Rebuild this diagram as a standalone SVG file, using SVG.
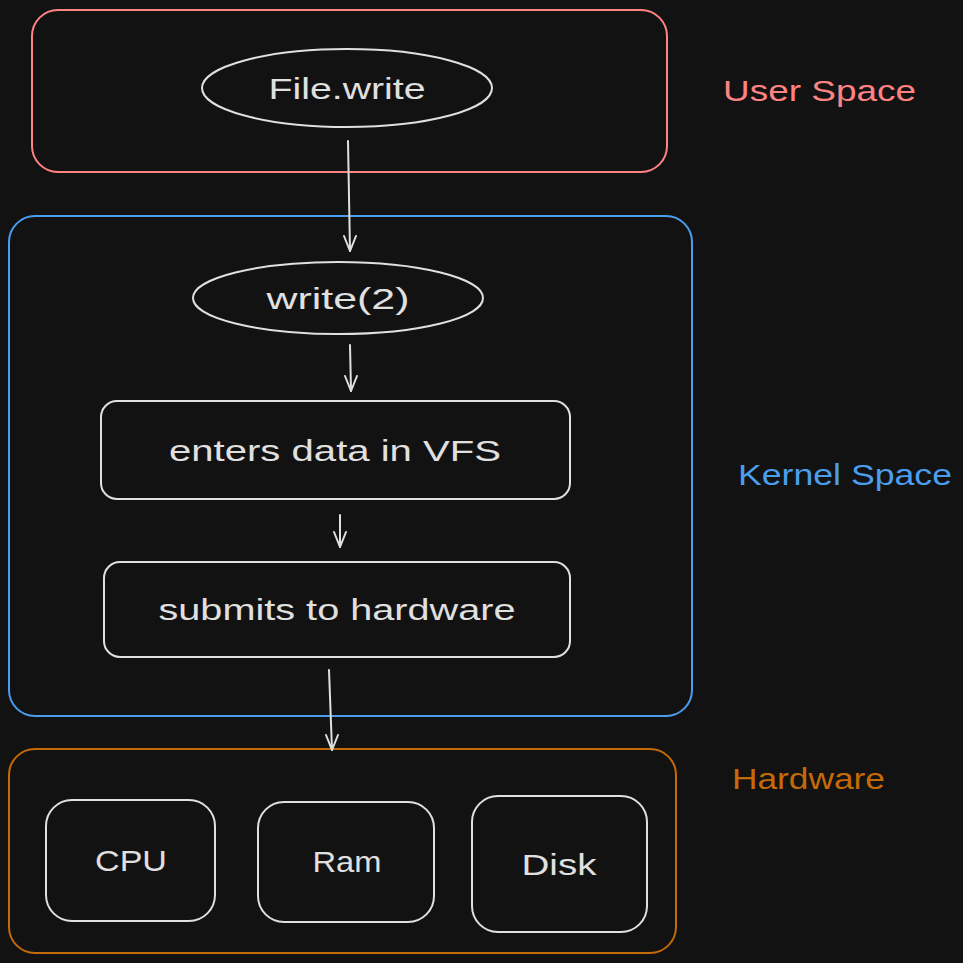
<svg xmlns="http://www.w3.org/2000/svg" width="963" height="963" viewBox="0 0 963 963">
<style>
.bg{fill:#121212}
.node{fill:none;stroke:#e0e0e0;stroke-width:2}
.t{font-family:"Liberation Sans",Lato,sans-serif;font-size:30px;fill:#e0e0e0;text-anchor:middle}
.lab{font-family:"Liberation Sans",Lato,sans-serif;font-size:30px}
.conn{stroke:#e0e0e0;stroke-width:2;fill:none;stroke-linecap:round}
</style>
<defs>
<marker id="arrd" viewBox="0 0 20 20" refX="10" refY="18" markerWidth="20" markerHeight="20" markerUnits="userSpaceOnUse" orient="0">
<polyline points="4,3 10,18 16,3" fill="none" stroke="#e0e0e0" stroke-width="2" stroke-linecap="round" stroke-linejoin="round"/>
</marker>
</defs>
<rect class="bg" x="0" y="0" width="963" height="963"/>

<g id="user-space">
<rect x="32" y="10" width="635" height="162" rx="26" fill="none" stroke="#ff8383" stroke-width="2"/>
<text class="lab" x="723" y="101" fill="#ff8383" textLength="193" lengthAdjust="spacingAndGlyphs">User Space</text>
</g>
<g id="kernel-space">
<rect x="9" y="216" width="683" height="500" rx="26" fill="none" stroke="#4a9eed" stroke-width="2"/>
<text class="lab" x="738" y="485" fill="#4a9eed" textLength="214" lengthAdjust="spacingAndGlyphs">Kernel Space</text>
</g>
<g id="hardware">
<rect x="9" y="749" width="667" height="204" rx="26" fill="none" stroke="#c46a08" stroke-width="2"/>
<text class="lab" x="732" y="789" fill="#c46a08" textLength="153" lengthAdjust="spacingAndGlyphs">Hardware</text>
</g>

<g id="file-write">
<ellipse class="node" cx="347" cy="88" rx="145" ry="39"/>
<text class="t" x="347" y="99" textLength="157" lengthAdjust="spacingAndGlyphs">File.write</text>
</g>
<g id="write2">
<ellipse class="node" cx="338" cy="298" rx="145" ry="36"/>
<text class="t" x="338" y="309" textLength="143" lengthAdjust="spacingAndGlyphs">write(2)</text>
</g>
<g id="vfs">
<rect class="node" x="101" y="401" width="469" height="98" rx="16"/>
<text class="t" x="335" y="461" textLength="332" lengthAdjust="spacingAndGlyphs">enters data in VFS</text>
</g>
<g id="submit">
<rect class="node" x="104" y="562" width="466" height="95" rx="16"/>
<text class="t" x="337" y="620" textLength="357" lengthAdjust="spacingAndGlyphs">submits to hardware</text>
</g>
<g id="cpu">
<rect class="node" x="46" y="800" width="169" height="121" rx="26"/>
<text class="t" x="131" y="871" textLength="72" lengthAdjust="spacingAndGlyphs">CPU</text>
</g>
<g id="ram">
<rect class="node" x="258" y="802" width="176" height="120" rx="26"/>
<text class="t" x="347" y="872" textLength="69" lengthAdjust="spacingAndGlyphs">Ram</text>
</g>
<g id="disk">
<rect class="node" x="472" y="796" width="175" height="136" rx="26"/>
<text class="t" x="559" y="875" textLength="75" lengthAdjust="spacingAndGlyphs">Disk</text>
</g>

<g id="connectors">
<line class="conn" x1="348" y1="141" x2="350" y2="251" marker-end="url(#arrd)"/>
<line class="conn" x1="350" y1="345" x2="351" y2="391" marker-end="url(#arrd)"/>
<line class="conn" x1="340" y1="515" x2="340" y2="547" marker-end="url(#arrd)"/>
<line class="conn" x1="329" y1="670" x2="332" y2="750" marker-end="url(#arrd)"/>
</g>
</svg>
